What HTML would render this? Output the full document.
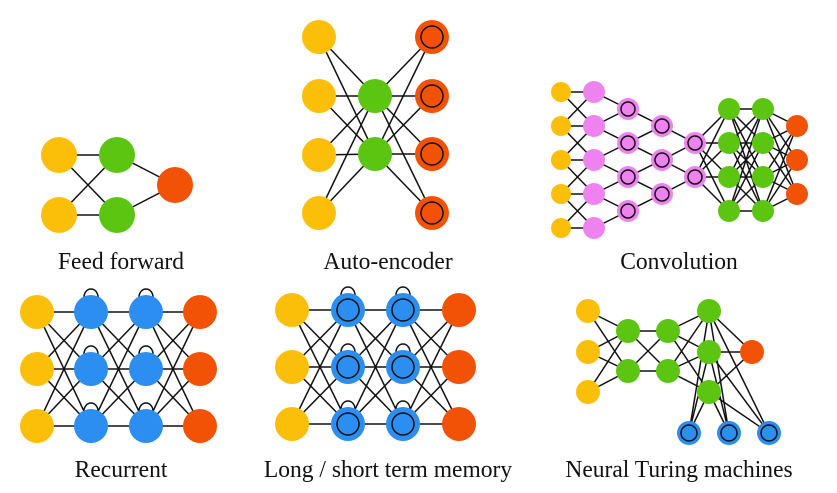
<!DOCTYPE html>
<html><head><meta charset="utf-8"><style>
html,body{margin:0;padding:0;background:#fff;width:837px;height:493px;overflow:hidden;position:relative}
.l{position:absolute;font-family:"Liberation Serif",serif;font-size:24px;color:#111;transform:translateX(-50%) scaleX(0.98);white-space:nowrap;line-height:1}
svg{position:absolute;left:0;top:0}
</style></head><body>
<svg id="s" width="837" height="493" xmlns="http://www.w3.org/2000/svg"></svg>
<div class="l" style="left:121px;top:250px">Feed forward</div>
<div class="l" style="left:388px;top:250px">Auto-encoder</div>
<div class="l" style="left:679px;top:250px">Convolution</div>
<div class="l" style="left:121px;top:458px">Recurrent</div>
<div class="l" style="left:388px;top:458px">Long / short term memory</div>
<div class="l" style="left:679px;top:458px">Neural Turing machines</div>
<script>
var s=document.getElementById('s'),L='',C='';
var Y='#fbbf0a',G='#5cc512',R='#f25205',P='#ee82ee',B='#2b8ef0';
function ln(a,b){L+='<line x1="'+a[0]+'" y1="'+a[1]+'" x2="'+b[0]+'" y2="'+b[1]+'" stroke="#111" stroke-width="1.5"/>';}
function full(A,Bs){A.forEach(function(a){Bs.forEach(function(b){ln(a,b);});});}
function nd(p,r,c,ring){C+='<circle cx="'+p[0]+'" cy="'+p[1]+'" r="'+r+'" fill="'+c+'"/>';if(ring)C+='<circle cx="'+p[0]+'" cy="'+p[1]+'" r="'+ring+'" fill="none" stroke="#111" stroke-width="1.5"/>';}
function col(x,ys){return ys.map(function(y){return [x,y];});}
function loop(p,r){L+='<path d="M'+(p[0]-7)+' '+(p[1]-r+2)+' A7 8 0 1 1 '+(p[0]+7)+' '+(p[1]-r+2)+'" fill="none" stroke="#111" stroke-width="1.5"/>';}
var fy=col(59,[155,215]),fg=col(117,[155,215]),fr=[[175,185]];
full(fy,fg);full(fg,fr);
fy.forEach(function(p){nd(p,18,Y)});fg.forEach(function(p){nd(p,18,G)});nd(fr[0],18,R);
var ay=col(319,[37,96,155,213]),ag=col(375,[96,154]),ar=col(432,[37,96,154,213]);
full(ay,ag);full(ag,ar);
ay.forEach(function(p){nd(p,17,Y)});ag.forEach(function(p){nd(p,17,G)});ar.forEach(function(p){nd(p,17,R,11)});
var cy=col(561,[92,126,160,194,228]),p1=col(594,[92,126,160,194,228]),p2=col(628,[109,143,177,211]),p3=col(662,[126,160,194]),p4=col(695,[143,177]),g1=col(729,[109,143,177,211]),g2=col(763,[109,143,177,211]),cr=col(797,[126,160,194]);
cy.forEach(function(a,i){p1.forEach(function(b,j){if(Math.abs(i-j)<=1)ln(a,b);});});
function pyr(A,Bs){Bs.forEach(function(b,j){ln(A[j],b);ln(A[j+1],b);});}
pyr(p1,p2);pyr(p2,p3);pyr(p3,p4);full(p4,g1);full(g1,g2);full(g2,cr);
cy.forEach(function(p){nd(p,10,Y)});p1.forEach(function(p){nd(p,11,P)});
[p2,p3,p4].forEach(function(c){c.forEach(function(p){nd(p,11,P,7)})});
g1.forEach(function(p){nd(p,11,G)});g2.forEach(function(p){nd(p,11,G)});cr.forEach(function(p){nd(p,11,R)});
var ry=[312,369,426];
var r0=col(37,ry),r1=col(91,ry),r2=col(146,ry),r3=col(200,ry);
full(r0,r1);full(r1,r2);full(r2,r3);
r1.concat(r2).forEach(function(p){loop(p,17)});
r0.forEach(function(p){nd(p,17,Y)});r1.concat(r2).forEach(function(p){nd(p,17,B)});r3.forEach(function(p){nd(p,17,R)});
var ly=[310,367,424];
var l0=col(292,ly),l1=col(348,ly),l2=col(403,ly),l3=col(459,ly);
full(l0,l1);full(l1,l2);full(l2,l3);
l1.concat(l2).forEach(function(p){loop(p,17)});
l0.forEach(function(p){nd(p,17,Y)});l1.concat(l2).forEach(function(p){nd(p,17,B,11)});l3.forEach(function(p){nd(p,17,R)});
var ny=col(588,[311,352,392]),n1=col(628,[331,371]),n2=col(668,[331,371]),n3=col(709,[311,352,392]),nr=[[752,352]],nb=[[689,433],[729,433],[769,433]];
full(ny,n1);full(n1,n2);full(n2,n3);full(n3,nr);full(n3,nb);
ny.forEach(function(p){nd(p,12,Y)});n1.concat(n2,n3).forEach(function(p){nd(p,12,G)});nd(nr[0],12,R);nb.forEach(function(p){nd(p,12,B,8)});
s.innerHTML=L+C;
</script>
</body></html>
